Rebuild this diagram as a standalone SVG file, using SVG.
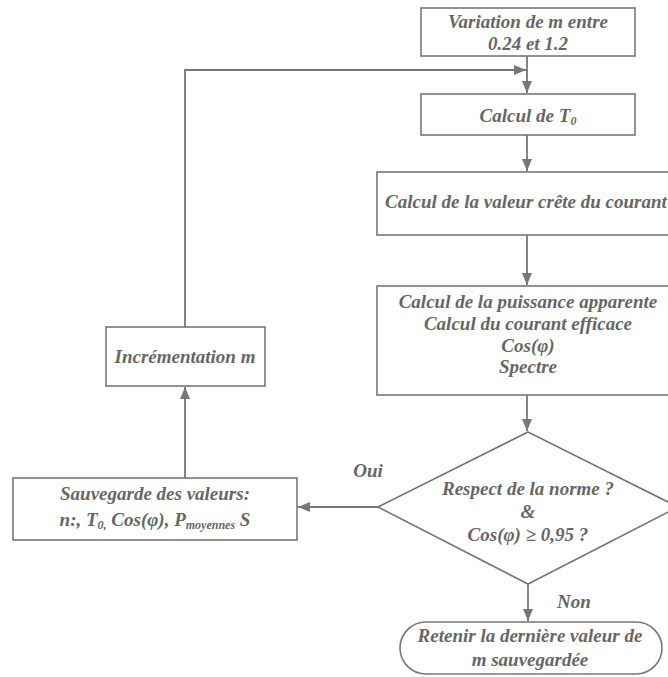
<svg xmlns="http://www.w3.org/2000/svg" width="668" height="677" viewBox="0 0 668 677">
<style>
.box{fill:#fff;stroke:#777;stroke-width:1.6}
.ln{fill:none;stroke:#777;stroke-width:1.8}
text{font-family:"Liberation Serif",serif;font-style:italic;font-weight:bold;font-size:19px;fill:#666;text-anchor:middle}
.sub{font-size:12px}
</style>
<defs>
<marker id="ah" viewBox="0 0 12 10" refX="12" refY="5" markerWidth="12" markerHeight="10" markerUnits="userSpaceOnUse" orient="auto">
<path d="M0,0 L12,5 L0,10 Z" fill="#777"/>
</marker>
</defs>
<rect width="668" height="677" fill="#fff"/>
<g id="connectors">
<line class="ln" x1="527" y1="56" x2="527" y2="93" marker-end="url(#ah)"/>
<polyline class="ln" points="185,327 185,70 526,70" marker-end="url(#ah)"/>
<line class="ln" x1="527" y1="135" x2="527" y2="171" marker-end="url(#ah)"/>
<line class="ln" x1="527" y1="235" x2="527" y2="285" marker-end="url(#ah)"/>
<line class="ln" x1="527" y1="395" x2="527" y2="431" marker-end="url(#ah)"/>
<line class="ln" x1="378" y1="507" x2="298" y2="507" marker-end="url(#ah)"/>
<line class="ln" x1="185" y1="478" x2="185" y2="387" marker-end="url(#ah)"/>
<line class="ln" x1="528" y1="584" x2="528" y2="621" marker-end="url(#ah)"/>
<text x="368" y="477">Oui</text>
<text x="574" y="608">Non</text>
</g>
<g id="n1">
<rect class="box" x="421" y="8" width="214" height="48"/>
<text x="528" y="28">Variation de m entre</text>
<text x="528" y="50">0.24 et 1.2</text>
</g>
<g id="n2">
<rect class="box" x="421" y="94" width="214" height="41"/>
<text x="528" y="122">Calcul de T<tspan class="sub" dy="3">0</tspan></text>
</g>
<g id="n3">
<rect class="box" x="377" y="172" width="320" height="63"/>
<text x="385" y="208" style="text-anchor:start">Calcul de la valeur crête du courant</text>
</g>
<g id="n4">
<rect class="box" x="377" y="286" width="310" height="109"/>
<text x="528" y="308">Calcul de la puissance apparente</text>
<text x="528" y="330">Calcul du courant efficace</text>
<text x="528" y="352">Cos(φ)</text>
<text x="528" y="373">Spectre</text>
</g>
<g id="n5">
<polygon class="box" points="528,432 678,507 528,584 378,507"/>
<text x="528" y="495">Respect de la norme ?</text>
<text x="528" y="518">&amp;</text>
<text x="528" y="541">Cos(φ) ≥ 0,95 ?</text>
</g>
<g id="n6">
<rect class="box" x="400" y="622" width="262" height="52" rx="26" ry="26"/>
<text x="530" y="642">Retenir la dernière valeur de</text>
<text x="530" y="666">m sauvegardée</text>
</g>
<g id="n7">
<rect class="box" x="13" y="478" width="284" height="62"/>
<text x="155" y="500">Sauvegarde des valeurs:</text>
<text x="155" y="526">n:, T<tspan class="sub" dy="3">0,</tspan><tspan dy="-3"> Cos(φ), P</tspan><tspan class="sub" dy="3">moyennes</tspan><tspan dy="-3"> S</tspan></text>
</g>
<g id="n8">
<rect class="box" x="106" y="327" width="159" height="59"/>
<text x="185" y="363">Incrémentation m</text>
</g>
</svg>
